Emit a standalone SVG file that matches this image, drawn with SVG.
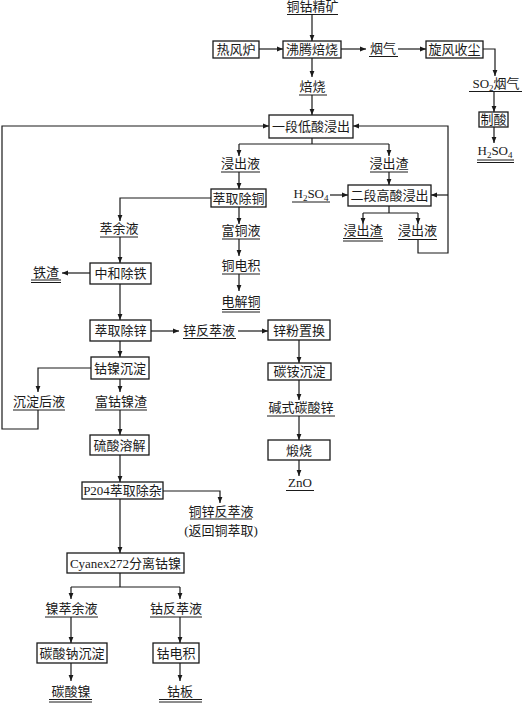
<svg xmlns="http://www.w3.org/2000/svg" width="523" height="703" viewBox="0 0 523 703">
<style>
text{font-family:"Liberation Serif","Noto Sans CJK SC",serif;font-size:13px;fill:#1a1a1a;text-anchor:middle}
.b{fill:#fff;stroke:#1a1a1a;stroke-width:1.3}
.u{stroke:#1a1a1a;stroke-width:1;fill:none}
.c{stroke:#1a1a1a;stroke-width:1.2;fill:none}
.a{marker-end:url(#ah)}
.s{font-size:9px}
</style>
<defs>
<marker id="ah" viewBox="0 0 6 6" refX="6" refY="3" markerWidth="6" markerHeight="6" markerUnits="userSpaceOnUse" orient="auto">
<path d="M0,0.6 L6,3 L0,5.4 Z" fill="#1a1a1a"/>
</marker>
</defs>
<rect width="523" height="703" fill="#fff"/>

<g id="connectors">
<path class="c a" d="M312,15 V41"/>
<path class="c a" d="M259,49 H283"/>
<path class="c a" d="M341,49 H366"/>
<path class="c a" d="M398,49 H426"/>
<path class="c a" d="M483,49 H495 V76"/>
<path class="c a" d="M494,92 V112"/>
<path class="c a" d="M494,127 V143"/>
<path class="c a" d="M312,58 V77"/>
<path class="c a" d="M312,95 V115"/>
<path class="c" d="M312,138 V144 M239,144 H389"/>
<path class="c a" d="M239,144 V156"/>
<path class="c a" d="M389,144 V156"/>
<path class="c a" d="M239,172 V189"/>
<path class="c a" d="M239,207 V224"/>
<path class="c a" d="M239,239 V256"/>
<path class="c a" d="M239,274 V291"/>
<path class="c a" d="M211,198 H120 V221"/>
<path class="c a" d="M389,172 V185"/>
<path class="c a" d="M330,195 H348"/>
<path class="c" d="M389,206 V213 M363,213 H418"/>
<path class="c a" d="M363,213 V224"/>
<path class="c a" d="M418,213 V224"/>
<path class="c a" d="M418,240 V253 H448 V126 H353"/>
<path class="c a" d="M448,195 H431"/>
<path class="c a" d="M120,237 V263"/>
<path class="c a" d="M90,273 H62"/>
<path class="c a" d="M120,284 V320"/>
<path class="c a" d="M151,331 H179"/>
<path class="c a" d="M238,331 H268"/>
<path class="c a" d="M299,340 V363"/>
<path class="c a" d="M299,380 V400"/>
<path class="c a" d="M299,416 V440"/>
<path class="c a" d="M299,460 V476"/>
<path class="c a" d="M120,341 V357"/>
<path class="c a" d="M91,368 H38 V392"/>
<path class="c a" d="M120,379 V392"/>
<path class="c a" d="M38,410 V429 H2 V126 H269"/>
<path class="c a" d="M120,410 V435"/>
<path class="c a" d="M120,455 V482"/>
<path class="c a" d="M163,491 H220 V503"/>
<path class="c a" d="M120,499 V553"/>
<path class="c" d="M120,573 V587 M71,587 H180"/>
<path class="c a" d="M71,587 V599"/>
<path class="c a" d="M180,587 V599"/>
<path class="c a" d="M71,617 V643"/>
<path class="c a" d="M180,617 V643"/>
<path class="c a" d="M71,663 V681"/>
<path class="c a" d="M180,663 V681"/>
</g>

<g id="n_tongguojingkuang"><text x="312.5" y="11">铜钴精矿</text><path class="u" d="M287,14.5 H338"/></g>
<g id="n_refenglu"><rect class="b" x="213" y="41" width="46" height="17"/><text x="236" y="54">热风炉</text></g>
<g id="n_feiteng"><rect class="b" x="283" y="41" width="58" height="17"/><text x="312" y="54">沸腾焙烧</text></g>
<g id="n_yanqi"><text x="383" y="53">烟气</text><path class="u" d="M369,56.5 H398"/></g>
<g id="n_xuanfeng"><rect class="b" x="426" y="41" width="57" height="17"/><text x="454.5" y="54">旋风收尘</text></g>
<g id="n_so2"><text x="496" y="88">SO<tspan class="s" dy="3">2</tspan><tspan dy="-3">烟气</tspan></text><path class="u" d="M469,91.5 H522"/></g>
<g id="n_zhisuan"><rect class="b" x="479" y="112" width="29" height="15"/><text x="493.5" y="124">制酸</text></g>
<g id="n_h2so4a"><text x="495" y="155">H<tspan class="s" dy="3">2</tspan><tspan dy="-3">SO</tspan><tspan class="s" dy="3">4</tspan></text><path class="u" d="M477,160 H514 M477,162.5 H514"/></g>
<g id="n_beishao"><text x="312.5" y="91">焙烧</text><path class="u" d="M299,95 H327"/></g>
<g id="n_yiduan"><rect class="b" x="269" y="115" width="84" height="23"/><text x="311" y="131">一段低酸浸出</text></g>
<g id="n_jinchuye1"><text x="240.5" y="168">浸出液</text><path class="u" d="M221,172 H260"/></g>
<g id="n_jinchuzha1"><text x="389" y="168">浸出渣</text><path class="u" d="M370,172 H408"/></g>
<g id="n_cuiqutong"><rect class="b" x="211" y="189" width="55" height="18"/><text x="238.5" y="202.5">萃取除铜</text></g>
<g id="n_h2so4b"><text x="311" y="198">H<tspan class="s" dy="3">2</tspan><tspan dy="-3">SO</tspan><tspan class="s" dy="3">4</tspan></text><path class="u" d="M292,202 H330"/></g>
<g id="n_erduan"><rect class="b" x="348" y="185" width="83" height="21"/><text x="389.5" y="200">二段高酸浸出</text></g>
<g id="n_jinchuzha2"><text x="363" y="235">浸出渣</text><path class="u" d="M343,238.5 H383 M343,241 H383"/></g>
<g id="n_jinchuye2"><text x="417.5" y="235">浸出液</text><path class="u" d="M398,239.5 H437"/></g>
<g id="n_cuiyuye"><text x="119" y="233">萃余液</text><path class="u" d="M100,237 H138"/></g>
<g id="n_futongye"><text x="241" y="235">富铜液</text><path class="u" d="M222,239 H260"/></g>
<g id="n_tongdianji"><text x="241" y="270">铜电积</text><path class="u" d="M222,274 H260"/></g>
<g id="n_dianjietong"><text x="241" y="306">电解铜</text><path class="u" d="M222,309.5 H260 M222,312 H260"/></g>
<g id="n_zhonghe"><rect class="b" x="90" y="263" width="61" height="21"/><text x="120.5" y="278">中和除铁</text></g>
<g id="n_tiezha"><text x="46" y="277">铁渣</text><path class="u" d="M31,280 H61 M31,282.5 H61"/></g>
<g id="n_cuiquxin"><rect class="b" x="90" y="320" width="61" height="21"/><text x="120.5" y="335">萃取除锌</text></g>
<g id="n_xinfancuiye"><text x="209" y="335">锌反萃液</text><path class="u" d="M183,338.5 H236"/></g>
<g id="n_xinfen"><rect class="b" x="268" y="320" width="62" height="20"/><text x="299" y="334.5">锌粉置换</text></g>
<g id="n_tanan"><rect class="b" x="268" y="363" width="63" height="17"/><text x="299.5" y="376">碳铵沉淀</text></g>
<g id="n_jianshi"><text x="301" y="412">碱式碳酸锌</text><path class="u" d="M267,416 H335"/></g>
<g id="n_duanshao"><rect class="b" x="268" y="440" width="62" height="20"/><text x="299" y="454.5">煅烧</text></g>
<g id="n_zno"><text x="300" y="487">ZnO</text><path class="u" d="M286,490.5 H314"/></g>
<g id="n_gunie"><rect class="b" x="91" y="357" width="58" height="22"/><text x="120" y="372.5">钴镍沉淀</text></g>
<g id="n_chendianhouye"><text x="39" y="406">沉淀后液</text><path class="u" d="M13,410 H65"/></g>
<g id="n_fugunie"><text x="121" y="406">富钴镍渣</text><path class="u" d="M95,410 H147"/></g>
<g id="n_liusuan"><rect class="b" x="90" y="435" width="59" height="20"/><text x="119.5" y="449.5">硫酸溶解</text></g>
<g id="n_p204"><rect class="b" x="82" y="482" width="81" height="17"/><text x="122.5" y="495">P204萃取除杂</text></g>
<g id="n_tongxinfancuiye"><text x="221" y="516">铜锌反萃液</text><path class="u" d="M190,519 H252"/><text x="221" y="535">(返回铜萃取)</text></g>
<g id="n_cyanex"><rect class="b" x="67" y="553" width="117" height="20"/><text x="125.5" y="567.5">Cyanex272分离钴镍</text></g>
<g id="n_niecuiyuye"><text x="71.5" y="613">镍萃余液</text><path class="u" d="M45,617 H98"/></g>
<g id="n_gufancuiye"><text x="176" y="613">钴反萃液</text><path class="u" d="M150,617 H202"/></g>
<g id="n_tansuanna"><rect class="b" x="37" y="643" width="70" height="20"/><text x="72" y="657.5">碳酸钠沉淀</text></g>
<g id="n_gudianji"><rect class="b" x="153" y="643" width="46" height="20"/><text x="176" y="657.5">钴电积</text></g>
<g id="n_tansuannie"><text x="71" y="696">碳酸镍</text><path class="u" d="M49,699.5 H92 M49,702 H92"/></g>
<g id="n_guban"><text x="180" y="696">钴板</text><path class="u" d="M159,699.5 H202 M159,702 H202"/></g>
</svg>
